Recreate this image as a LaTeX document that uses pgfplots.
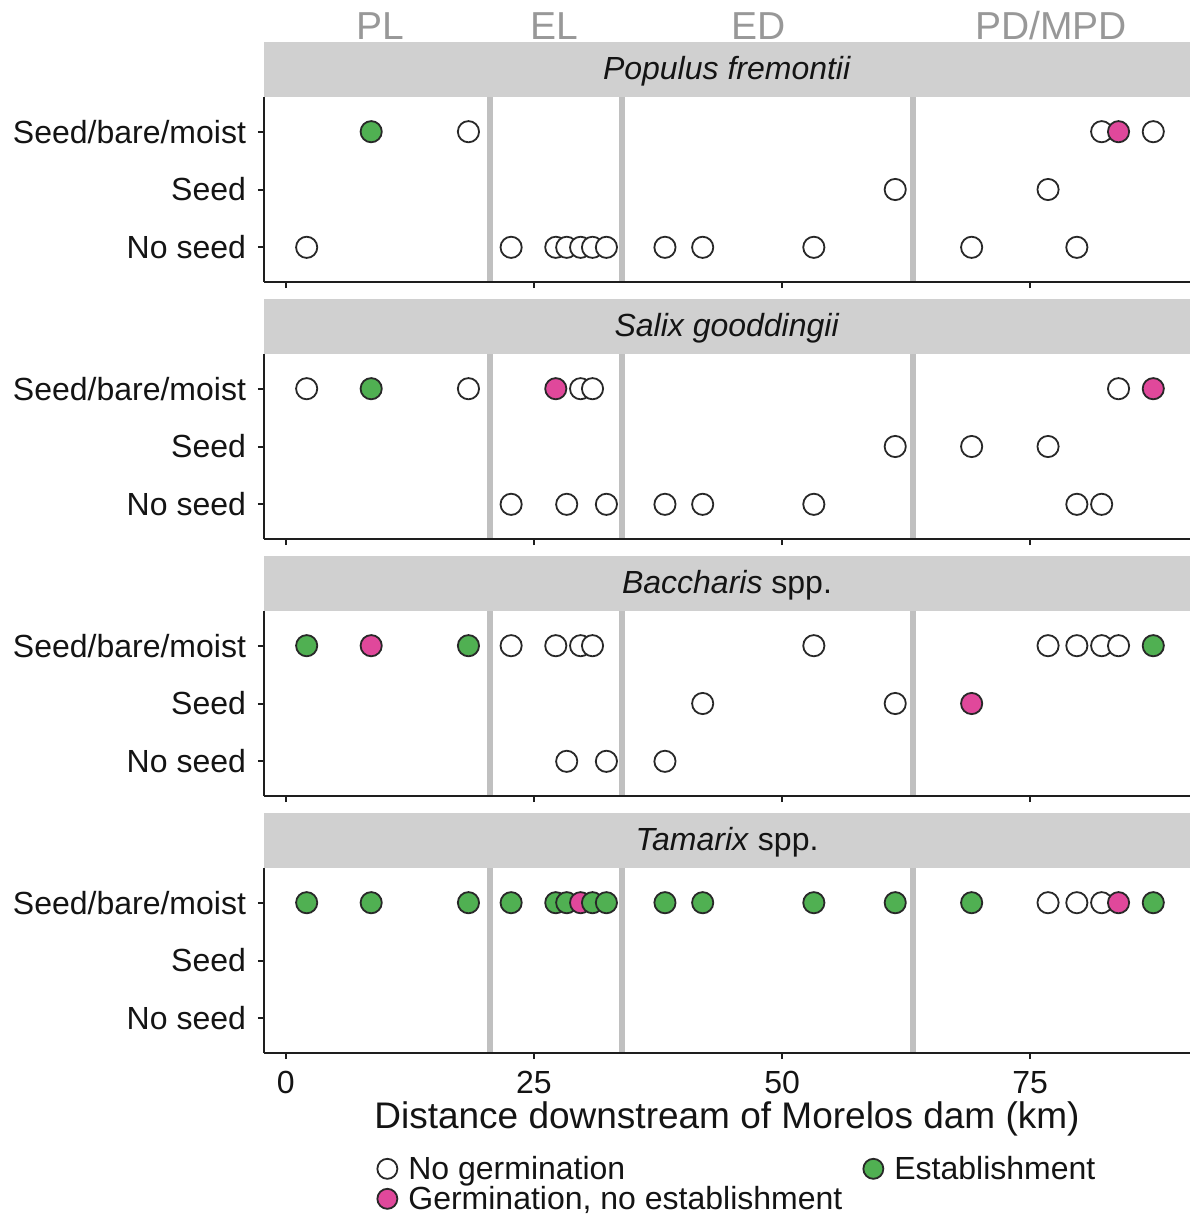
\documentclass[border=0pt]{standalone}
\usepackage{fontspec}
\setmainfont{Liberation Sans}
\usepackage{pgfplots}
\pgfplotsset{compat=1.18}
\usepackage{pgfplotstable}

\definecolor{stripc}{RGB}{208,208,208}
\definecolor{vlinec}{RGB}{192,192,192}
\definecolor{edgec}{RGB}{40,40,40}
\definecolor{greenc}{RGB}{80,176,82}
\definecolor{pinkc}{RGB}{224,72,155}
\definecolor{zonec}{RGB}{152,152,152}
\definecolor{axc}{RGB}{30,30,30}
\definecolor{txtc}{RGB}{20,20,20}

% x = km downstream, y = 1 no seed, 2 seed, 3 seed/bare/moist
% c: n = no germination, g = germination no establishment, e = establishment
\pgfplotstableread{
x y c
2.1 1 n
8.6 3 e
18.4 3 n
22.7 1 n
27.2 1 n
28.3 1 n
29.7 1 n
30.9 1 n
32.3 1 n
38.2 1 n
42.0 1 n
53.2 1 n
61.4 2 n
69.1 1 n
76.8 2 n
79.7 1 n
82.2 3 n
83.9 3 g
87.4 3 n
}\populus

\pgfplotstableread{
x y c
2.1 3 n
8.6 3 e
18.4 3 n
22.7 1 n
27.2 3 g
28.3 1 n
29.7 3 n
30.9 3 n
32.3 1 n
38.2 1 n
42.0 1 n
53.2 1 n
61.4 2 n
69.1 2 n
76.8 2 n
79.7 1 n
82.2 1 n
83.9 3 n
87.4 3 g
}\salix

\pgfplotstableread{
x y c
2.1 3 e
8.6 3 g
18.4 3 e
22.7 3 n
27.2 3 n
28.3 1 n
29.7 3 n
30.9 3 n
32.3 1 n
38.2 1 n
42.0 2 n
53.2 3 n
61.4 2 n
69.1 2 g
76.8 3 n
79.7 3 n
82.2 3 n
83.9 3 n
87.4 3 e
}\baccharis

\pgfplotstableread{
x y c
2.1 3 e
8.6 3 e
18.4 3 e
22.7 3 e
27.2 3 e
28.3 3 e
29.7 3 g
30.9 3 e
32.3 3 e
38.2 3 e
42.0 3 e
53.2 3 e
61.4 3 e
69.1 3 e
76.8 3 n
79.7 3 n
82.2 3 n
83.9 3 g
87.4 3 e
}\tamarix

\pgfplotsset{
  panel/.style={
    width=463pt, height=92.5pt, scale only axis,
    xmin=-2.2, xmax=91.1, ymin=0.4, ymax=3.6,
    axis x line*=bottom, axis y line*=left,
    axis line style={line width=1pt, color=axc, -},
    axis on top, clip=false,
    xtick={0,25,50,75}, ytick={1,2,3},
    yticklabels={No seed,Seed,Seed/bare/moist},
    tick style={line width=1pt, color=axc},
    tick align=outside, major tick length=3pt,
    tick label style={font=\fontsize{16}{16}\selectfont, text=txtc},
    yticklabel style={xshift=-2.5pt},
    xticklabel style={yshift=-2.5pt},
    /pgf/number format/assume math mode=true,
    title style={at={(rel axis cs:0.5,1)}, anchor=south, fill=stripc,
      minimum width=463pt, minimum height=27.5pt, inner sep=0pt, yshift=-6pt,
      text height=11.5pt, text depth=1.5pt,
      font=\fontsize{16}{16}\selectfont, text=txtc},
  },
  pts/.style={scatter, only marks, forget plot, mark size=5.3pt,
    point meta=explicit symbolic,
    scatter/classes={
      n={mark=*, draw=edgec, fill=white, line width=0.9pt},
      g={mark=*, draw=edgec, fill=pinkc, line width=0.9pt},
      e={mark=*, draw=edgec, fill=greenc, line width=0.9pt}}},
  vl/.style={forget plot, vlinec, line width=3pt},
}

\newcommand{\zonelines}{%
  \addplot[vl] coordinates {(20.6,0.4) (20.6,3.6)};
  \addplot[vl] coordinates {(33.9,0.4) (33.9,3.6)};
  \addplot[vl] coordinates {(63.2,0.4) (63.2,3.6)};
}

\begin{document}
\begin{tikzpicture}
\path[use as bounding box] (0,0) rectangle (595pt,-608.5pt);

\begin{axis}[panel, at={(132pt,-141pt)}, anchor=south west,
  xticklabels={}, title={\textit{Populus fremontii}}]
  \addplot[pts] table[x=x, y=y, meta=c] {\populus};
  \zonelines
  \node[anchor=base, text=zonec, font=\fontsize{19.5}{19.5}\selectfont] at (axis cs:9.5,4.59) {PL};
  \node[anchor=base, text=zonec, font=\fontsize{19.5}{19.5}\selectfont] at (axis cs:27.1,4.59) {EL};
  \node[anchor=base, text=zonec, font=\fontsize{19.5}{19.5}\selectfont] at (axis cs:47.6,4.59) {ED};
  \node[anchor=base, text=zonec, font=\fontsize{19.5}{19.5}\selectfont] at (axis cs:77.1,4.59) {PD/MPD};
\end{axis}

\begin{axis}[panel, at={(132pt,-269.5pt)}, anchor=south west,
  xticklabels={}, title={\textit{Salix gooddingii}}]
  \addplot[pts] table[x=x, y=y, meta=c] {\salix};
  \zonelines
\end{axis}

\begin{axis}[panel, at={(132pt,-398pt)}, anchor=south west,
  xticklabels={}, title={\textit{Baccharis} spp.}]
  \addplot[pts] table[x=x, y=y, meta=c] {\baccharis};
  \zonelines
\end{axis}

\begin{axis}[panel, at={(132pt,-526.5pt)}, anchor=south west,
  title={\textit{Tamarix} spp.},
  xlabel={Distance downstream of Morelos dam (km)},
  xlabel style={font=\fontsize{18.5}{18.5}\selectfont, text=txtc,
    at={(axis description cs:0.5,0)}, anchor=base, yshift=-37.5pt},
  legend columns=2, legend cell align=left,
  legend image code/.code={\draw[#1] plot coordinates {(0pt,1.5pt)};},
  legend style={draw=none, fill=none, at={(0.122,-0.559)}, anchor=north west,
    inner sep=0pt, column sep=0pt, row sep=0pt,
    font=\fontsize{16}{16}\selectfont, text=txtc,
    nodes={inner sep=0pt, text height=11.5pt, text depth=3.5pt},
    /tikz/every odd column/.append style={column sep=5.5pt},
    /tikz/every even column/.append style={column sep=10.5pt}},
  ]
  \addplot[pts] table[x=x, y=y, meta=c] {\tamarix};
  \zonelines
  \addlegendimage{mark=*, draw=none, mark size=5pt, mark options={draw=edgec, fill=white, line width=0.9pt}}
  \addlegendimage{mark=*, draw=none, mark size=5pt, mark options={draw=edgec, fill=greenc, line width=0.9pt}}
  \addlegendimage{mark=*, draw=none, mark size=5pt, mark options={draw=edgec, fill=pinkc, line width=0.9pt}}
  \legend{No germination, Establishment, {Germination, no establishment}}
\end{axis}
\end{tikzpicture}
\end{document}
